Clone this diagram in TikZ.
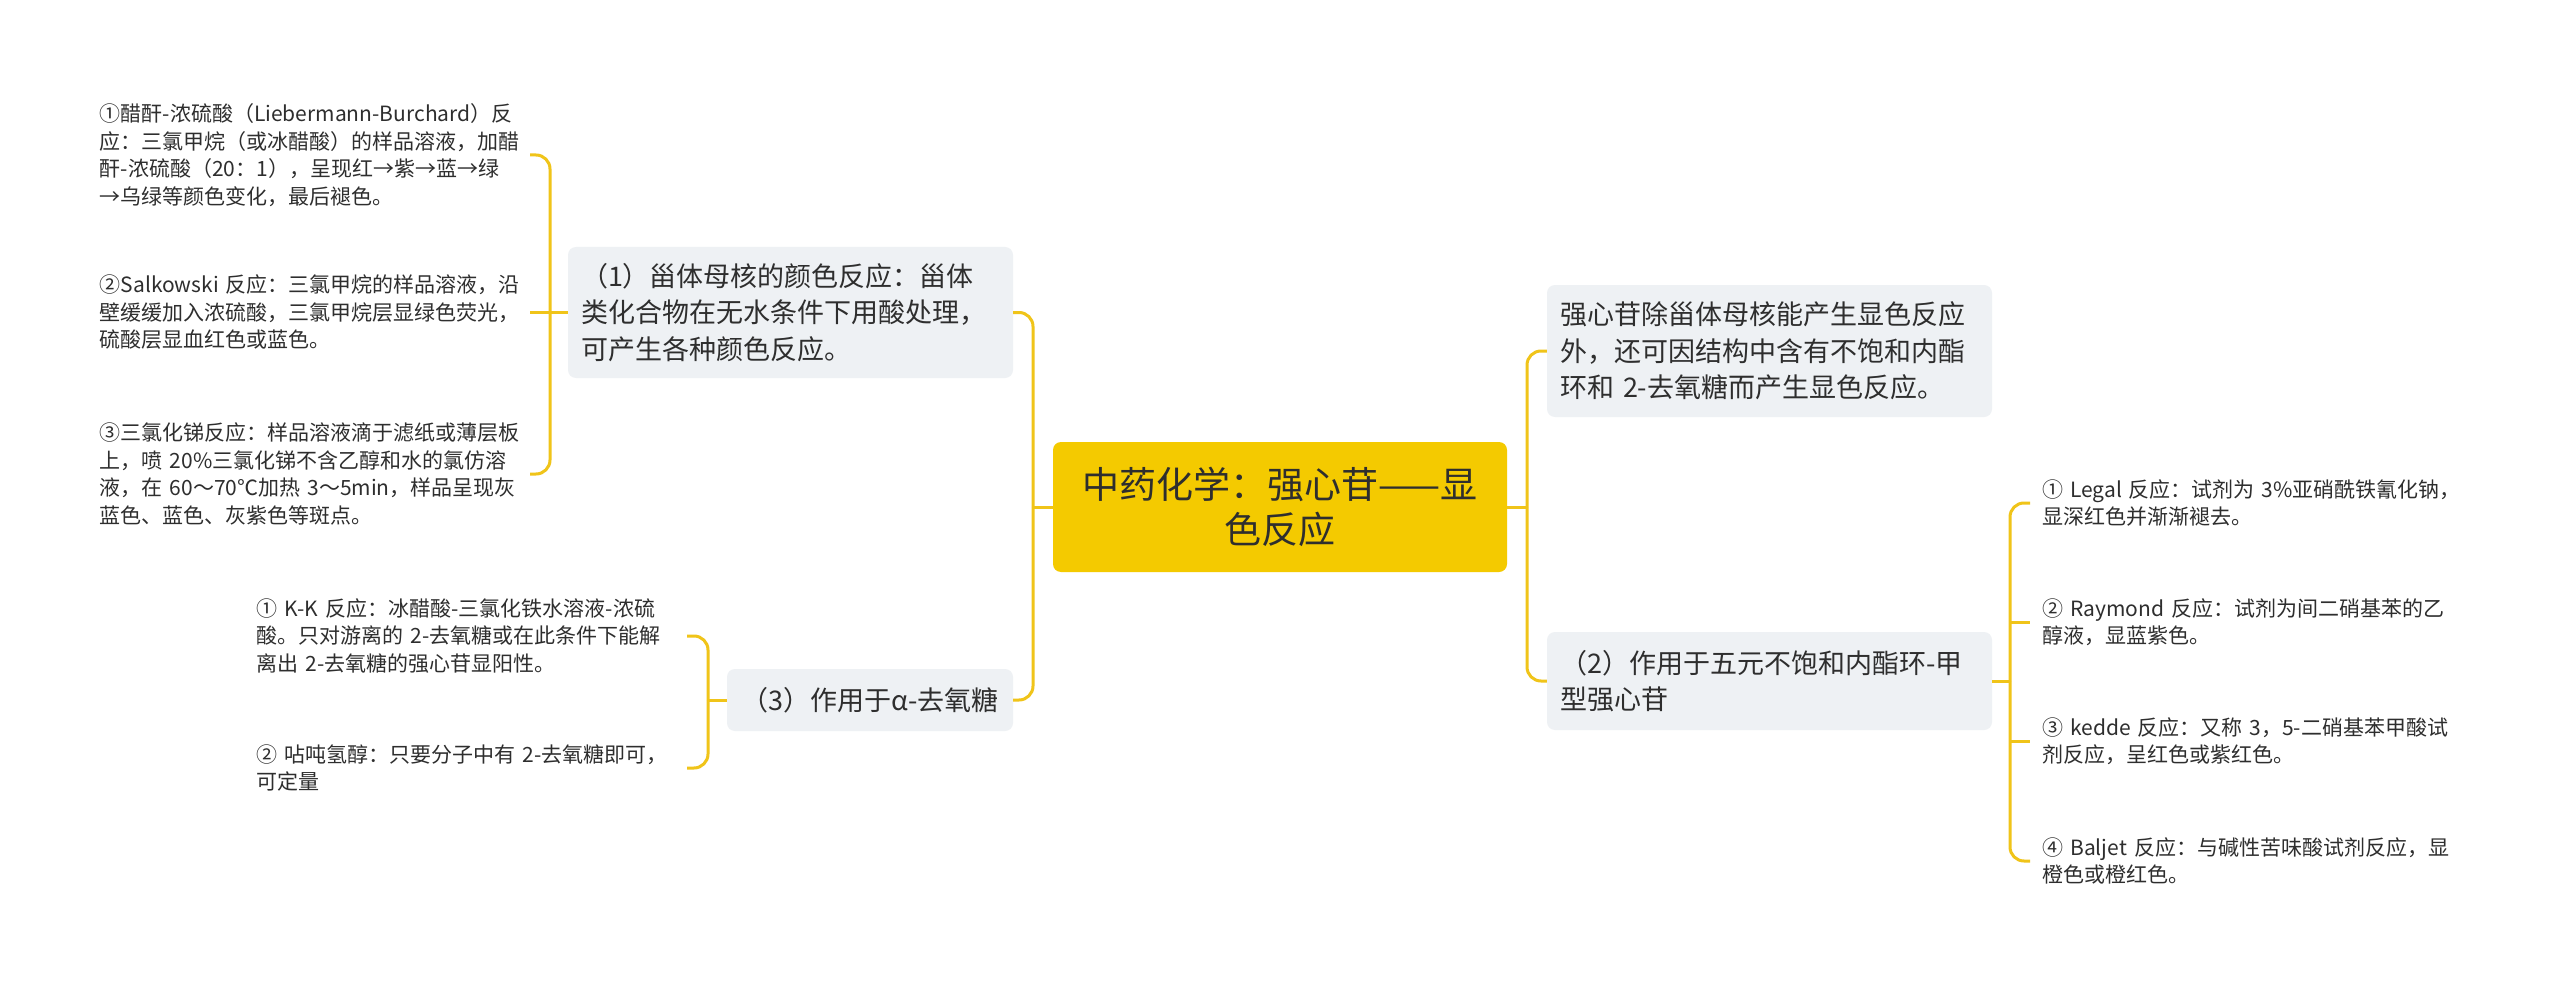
\documentclass[tikz,border=0pt]{standalone}
\usepackage{fontspec}
\setmainfont{Noto Sans CJK SC}
\definecolor{rootfill}{HTML}{F4CA00}
\definecolor{conncol}{HTML}{F0C419}
\definecolor{boxfill}{HTML}{EEF1F4}
\definecolor{txt}{HTML}{2E2E2E}
\begin{document}
\begin{tikzpicture}[x=1pt,y=-1pt,
  conn/.style={draw=conncol,line width=3pt},
  rconn/.style={conn,rounded corners=14pt},
  rootbox/.style={fill=rootfill,rounded corners=8pt,minimum width=454pt,minimum height=130pt,align=center,text=txt,font=\fontsize{37}{45}\selectfont,inner sep=0pt},
  brbox/.style={fill=boxfill,rounded corners=8pt,align=left,text=txt,font=\fontsize{27}{36.5}\selectfont,inner xsep=13pt},
  leaf/.style={align=left,text=txt,font=\fontsize{21}{27.5}\selectfont,text width=420pt,inner xsep=10pt,inner ysep=4pt},
]
\useasboundingbox (0,0) rectangle (2560,987);
\fill[white] (0,0) rectangle (2560,987);

% root
\node[rootbox] (root) at (1280,507) {中药化学：强心苷——显\\色反应};

% main branches
\node[brbox,minimum width=445pt,minimum height=131pt,text width=419pt] (b1) at (790.5,312.5)
  {（1）甾体母核的颜色反应：甾体\\类化合物在无水条件下用酸处理，\\可产生各种颜色反应。};
\node[brbox,minimum width=286pt,minimum height=62pt,align=center] (b3) at (870,700)
  {（3）作用于α-去氧糖};
\node[brbox,minimum width=445pt,minimum height=132pt,text width=419pt] (rt) at (1769.5,351)
  {强心苷除甾体母核能产生显色反应\\外，还可因结构中含有不饱和内酯\\环和 2-去氧糖而产生显色反应。};
\node[brbox,minimum width=445pt,minimum height=98pt,text width=419pt] (b2) at (1769.5,681)
  {（2）作用于五元不饱和内酯环-甲\\型强心苷};

% leaves of (1)
\node[leaf,anchor=east] (l11) at (530,155)
  {①醋酐-浓硫酸（Liebermann-Burchard）反\\应：三氯甲烷（或冰醋酸）的样品溶液，加醋\\酐-浓硫酸（20：1），呈现红→紫→蓝→绿\\→乌绿等颜色变化，最后褪色。};
\node[leaf,anchor=east] (l12) at (530,312.5)
  {\mbox{②Salkowski 反应：三氯甲烷的样品溶液，沿}\\壁缓缓加入浓硫酸，三氯甲烷层显绿色荧光，\\硫酸层显血红色或蓝色。};
\node[leaf,anchor=east] (l13) at (530,474)
  {③三氯化锑反应：样品溶液滴于滤纸或薄层板\\上，喷 20\%三氯化锑不含乙醇和水的氯仿溶\\液，在 60～70℃加热 3～5min，样品呈现灰\\蓝色、蓝色、灰紫色等斑点。};

% leaves of (3)
\node[leaf,anchor=east] (l31) at (687,636)
  {① K-K 反应：冰醋酸-三氯化铁水溶液-浓硫\\酸。只对游离的 2-去氧糖或在此条件下能解\\离出 2-去氧糖的强心苷显阳性。};
\node[leaf,anchor=east] (l32) at (687,768)
  {② 呫吨氢醇：只要分子中有 2-去氧糖即可，\\可定量};

% leaves of (2)
\node[leaf,anchor=west,inner xsep=12pt] (r1) at (2030,503)
  {① Legal 反应：试剂为 3\%亚硝酰铁氰化钠，\\显深红色并渐渐褪去。};
\node[leaf,anchor=west,inner xsep=12pt] (r2) at (2030,622)
  {② Raymond 反应：试剂为间二硝基苯的乙\\醇液，显蓝紫色。};
\node[leaf,anchor=west,inner xsep=12pt] (r3) at (2030,741)
  {③ kedde 反应：又称 3，5-二硝基苯甲酸试\\剂反应，呈红色或紫红色。};
\node[leaf,anchor=west,inner xsep=12pt] (r4) at (2030,861)
  {④ Baljet 反应：与碱性苦味酸试剂反应，显\\橙色或橙红色。};

% trunk coordinates
\coordinate (tL) at (1033,507);
\coordinate (tR) at (1527,507);
\coordinate (t1) at (550,312.5);
\coordinate (t3) at (708,700);
\coordinate (t2) at (2010,681);

% root connectors
\draw[conn] (root.west) -- (tL);
\draw[rconn] (tL) |- (b1.east);
\draw[rconn] (tL) |- (b3.east);
\draw[conn] (root.east) -- (tR);
\draw[rconn] (tR) |- (rt.west);
\draw[rconn] (tR) |- (b2.west);

% (1) connectors
\draw[conn] (b1.west) -- (l12.east);
\draw[rconn] (t1) |- (l11.east);
\draw[rconn] (t1) |- (l13.east);

% (3) connectors
\draw[conn] (b3.west) -- (t3);
\draw[rconn] (t3) |- (l31.east);
\draw[rconn] (t3) |- (l32.east);

% (2) connectors
\draw[conn] (b2.east) -- (t2);
\draw[rconn] (t2) |- (r1.west);
\draw[rconn] (t2) |- (r4.west);
\draw[conn] (t2 |- r2.west) -- (r2.west);
\draw[conn] (t2 |- r3.west) -- (r3.west);
\end{tikzpicture}
\end{document}
